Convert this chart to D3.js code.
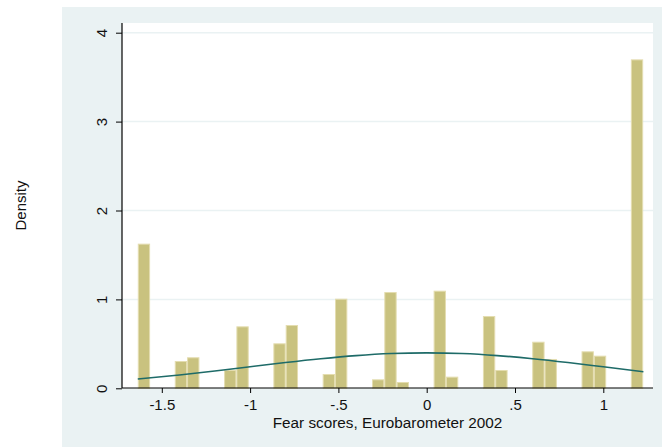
<!DOCTYPE html>
<html lang="en">
<head>
<meta charset="UTF-8">
<title>Fear scores histogram</title>
<style>
  * { margin: 0; padding: 0; }
  body { background: #fff; width: 662px; height: 447px; overflow: hidden; font-family: Arial, "Liberation Sans", sans-serif; }
  svg { display: block; }
  .tick text { font-size: 15px; fill: #111; font-family: Arial, "Liberation Sans", sans-serif; }
</style>
</head>
<body>
<svg id="chart" width="662" height="447"></svg>
<script src="https://d3js.org/d3.v7.min.js"></script>
<script>
// histogram bins (41 bins, start and width)
const binStart = -1.636;
const binWidth = 0.0698;
const binDensity = [
  1.627, 0, 0, 0.307, 0.349, 0, 0, 0.206, 0.697, 0, 0,
  0.506, 0.712, 0, 0, 0.161, 1.008, 0, 0, 0.101, 1.083,
  0.071, 0, 0, 1.098, 0.131, 0, 0, 0.813, 0.206, 0,
  0, 0.524, 0.330, 0, 0, 0.416, 0.367, 0, 0, 3.700
];

// normal density overlay
const curveX = [-1.636, -1.4, -1.2, -1.0, -0.8, -0.6, -0.4, -0.2, 0, 0.2, 0.4, 0.6, 0.8, 1.0, 1.227];
const curveY = [0.105, 0.150, 0.194, 0.242, 0.290, 0.333, 0.368, 0.391, 0.399, 0.391, 0.368, 0.333, 0.290, 0.242, 0.187];

const xTicks = [-1.5, -1, -0.5, 0, 0.5, 1];
const xTickLabels = ['-1.5', '-1', '-.5', '0', '.5', '1'];
const yTicks = [0, 1, 2, 3, 4];

const svg = d3.select('#chart');

// outer graph region
svg.append('rect').attr('x', 62).attr('y', 7).attr('width', 600).attr('height', 440).attr('fill', '#eaf2f3');

const plot = { left: 122, right: 653, top: 23, bottom: 388 };
svg.append('rect')
  .attr('x', plot.left).attr('y', plot.top)
  .attr('width', plot.right - plot.left).attr('height', plot.bottom - plot.top)
  .attr('fill', '#fff');

const x = d3.scaleLinear().domain([0, 1]).range([426.7, 603.3]);
const y = d3.scaleLinear().domain([0, 4]).range([388.3, 32.7]);

// gridlines
svg.append('g').selectAll('line')
  .data(yTicks.filter(d => d > 0)).join('line')
  .attr('x1', plot.left).attr('x2', plot.right)
  .attr('y1', d => y(d)).attr('y2', d => y(d))
  .attr('stroke', '#eaf2f3').attr('stroke-width', 1.5);

// bars
const bins = binDensity.map((d, i) => ({ x0: binStart + i * binWidth, x1: binStart + (i + 1) * binWidth, d }));
svg.append('g').selectAll('rect')
  .data(bins.filter(b => b.d > 0)).join('rect')
  .attr('x', b => x(b.x0) + 0.5)
  .attr('width', b => x(b.x1) - x(b.x0) - 1)
  .attr('y', b => y(b.d) + 0.5)
  .attr('height', b => y(0) - y(b.d) - 0.5)
  .attr('fill', '#c9c27f')
  .attr('stroke', '#e4ddb0')
  .attr('stroke-width', 1);

// normal curve
const line = d3.line()
  .x(d => x(d[0])).y(d => y(d[1]))
  .curve(d3.curveMonotoneX);
svg.append('path')
  .datum(curveX.map((v, i) => [v, curveY[i]]))
  .attr('d', line)
  .attr('fill', 'none')
  .attr('stroke', '#1e6b68')
  .attr('stroke-width', 1.6);

// x axis
const xAxis = svg.append('g')
  .attr('transform', `translate(0,${plot.bottom})`)
  .call(d3.axisBottom(x).tickValues(xTicks).tickFormat((d, i) => xTickLabels[i]).tickSize(5).tickPadding(6).tickSizeOuter(0));
xAxis.select('.domain').attr('d', `M${plot.left},0H${plot.right}`).attr('stroke', '#000').attr('stroke-width', 1.2);
xAxis.selectAll('.tick line').attr('stroke', '#000');

// y axis
const yAxis = svg.append('g')
  .attr('transform', `translate(${plot.left},0)`)
  .call(d3.axisLeft(y).tickValues(yTicks).tickFormat(d3.format('d')).tickSize(6).tickSizeOuter(0));
yAxis.select('.domain').attr('d', `M0,${plot.top}V${plot.bottom}`).attr('stroke', '#000').attr('stroke-width', 1.2);
yAxis.selectAll('.tick line').attr('stroke', '#000');
yAxis.selectAll('.tick text')
  .attr('x', null).attr('dy', null)
  .attr('text-anchor', 'middle')
  .attr('transform', 'translate(-15,0) rotate(-90)');

// axis titles
svg.append('text')
  .attr('x', (plot.left + plot.right) / 2).attr('y', 428)
  .attr('text-anchor', 'middle')
  .style('font-size', '15.3px').attr('fill', '#111')
  .text('Fear scores, Eurobarometer 2002');

svg.append('text')
  .attr('transform', `translate(26,${(plot.top + plot.bottom) / 2}) rotate(-90)`)
  .attr('text-anchor', 'middle')
  .style('font-size', '15px').attr('fill', '#111')
  .text('Density');
</script>
</body>
</html>
